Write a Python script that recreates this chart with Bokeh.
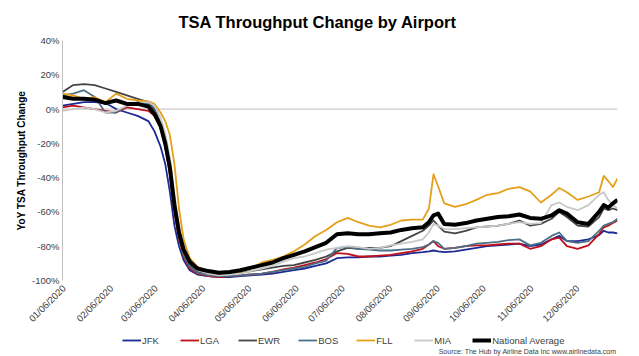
import pandas as pd
from math import pi
from bokeh.plotting import figure
from bokeh.layouts import column
from bokeh.models import (Range1d, FixedTicker, DatetimeTickFormatter, PrintfTickFormatter,
                          Span, Legend, LegendItem, Label)
from bokeh.embed import file_html
from bokeh.resources import INLINE

dates = ["2020-01-05", "2020-01-12", "2020-01-19", "2020-01-26", "2020-02-02", "2020-02-09",
         "2020-02-16", "2020-02-23", "2020-03-01", "2020-03-05", "2020-03-09", "2020-03-12",
         "2020-03-15", "2020-03-18", "2020-03-21", "2020-03-24", "2020-03-28", "2020-04-02",
         "2020-04-09", "2020-04-16", "2020-04-23", "2020-04-30", "2020-05-07", "2020-05-14",
         "2020-05-21", "2020-05-28", "2020-06-04", "2020-06-11", "2020-06-18", "2020-06-25",
         "2020-07-02", "2020-07-09", "2020-07-16", "2020-07-23", "2020-07-30", "2020-08-06",
         "2020-08-13", "2020-08-20", "2020-08-27", "2020-08-31", "2020-09-03", "2020-09-06",
         "2020-09-10", "2020-09-17", "2020-09-24", "2020-10-01", "2020-10-08", "2020-10-15",
         "2020-10-22", "2020-10-29", "2020-11-05", "2020-11-12", "2020-11-19", "2020-11-24",
         "2020-11-29", "2020-12-06", "2020-12-13", "2020-12-20", "2020-12-23", "2020-12-26",
         "2020-12-29", "2021-01-01"]

jfk = [2, 3, 4, 4, 3.5, 0, -2, -4, -7, -13, -22, -32, -48, -68, -80, -88, -94, -96.5,
       -97.5, -98, -98, -97.5, -97, -96.5, -96, -95, -94, -93, -91.5, -90, -87, -86.5,
       -86.5, -86, -86, -85.5, -85, -84, -83.5, -83, -82.5, -83, -83.5, -83, -82, -81,
       -80, -79.5, -79, -78.5, -80, -79, -76, -74, -77, -77, -76, -73.5, -71, -72, -72, -72.5]

lga = [1, 2, 1, 0, -1, -2, 1, 0, -1, -4, -11, -22, -38, -60, -76, -86, -93, -96,
       -97.5, -98, -97.5, -97, -96.5, -96, -95, -93.5, -92.5, -91, -89.5, -87.5, -84, -84.5,
       -86, -86, -85.5, -85, -84, -83, -81.5, -79, -77, -80, -81.5, -81, -80, -79.5,
       -79.5, -79, -78.5, -78.5, -81.5, -80, -76, -75, -80, -81.5, -79.5, -73, -69, -68, -66.5, -65]

ewr = [10, 14, 14.5, 14, 12, 10, 8, 6, 4, 0, -8, -19, -34, -56, -73, -84, -91, -95,
       -96, -96.5, -96, -95.5, -94.5, -93.5, -92.5, -91.5, -91, -89.5, -88, -86, -83, -81,
       -81.5, -81, -81, -80, -77, -74, -71, -68, -65, -68, -71.5, -72.5, -71, -69,
       -68.5, -68, -67, -65, -68, -67, -64, -60, -63, -68, -68.5, -63, -58, -59, -58, -59]

bos = [8, 9, 11, 7, -2, -2, 2, 4, 3, -1, -9, -20, -36, -58, -75, -85, -92, -95.5,
       -97, -97.5, -97.5, -97, -96.5, -96, -95, -94, -93, -92, -90, -88.5, -81, -80.5,
       -81.5, -82, -82.5, -82.5, -82, -81.5, -80.5, -79, -77, -78, -81.5, -81, -80, -78.5,
       -78, -77.5, -76.5, -76, -79.5, -78, -74, -72, -77, -78, -77, -71, -68, -67, -66, -64]

fll = [9, 8, 6, 7, 4, 9, 6, 5, 4.5, 3, -2, -7, -15, -32, -58, -76, -87, -92,
       -95, -96, -96, -95, -93, -89.5, -88, -86, -83, -79, -74, -70.5, -66, -63.5,
       -66, -68, -69, -67.5, -65, -64.5, -64.5, -58, -38, -45, -55, -57, -55.5, -53,
       -50, -49, -46.5, -45.5, -48, -54.5, -50, -46, -48.5, -53, -51, -48.5, -39, -42, -45.5, -40.5]

mia = [-1, 0, 1, 0, -2, -1, 2, 3.5, 4, 2, -5, -14, -28, -50, -68, -80, -89, -94,
       -96, -97, -96.5, -96, -94.5, -93, -91.5, -89, -87, -86, -84, -82, -81, -80,
       -80.5, -81.5, -81, -79.5, -78.5, -77.5, -76, -72, -67, -68, -70, -70, -69.5, -69,
       -68.5, -68, -67, -66, -67, -66.5, -56, -54.5, -57, -59, -56, -50, -48.5, -53, -56, -58]

national = [7, 6, 6, 5.5, 3.5, 5, 3, 3, 1.5, -3, -10, -20, -34, -56, -72, -82, -89, -93,
            -94.5, -95.5, -95, -94, -92.5, -91, -89.5, -87, -85, -83, -80.5, -78, -73, -72.5,
            -73, -73, -72.5, -72, -70.5, -69.5, -69, -66, -62, -61, -67, -67.5, -66.5, -65,
            -64, -63, -62.5, -61.5, -63.5, -64, -62, -59, -61, -66, -67, -60, -56, -57.5, -55, -53]

x_tick_labels = ["01/06/2020", "02/06/2020", "03/06/2020", "04/06/2020", "05/06/2020",
                 "06/06/2020", "07/06/2020", "08/06/2020", "09/06/2020", "10/06/2020",
                 "11/06/2020", "12/06/2020"]
y_ticks = [-100, -80, -60, -40, -20, 0, 20, 40]

series = [("JFK", jfk, "#1b2a94", 1.8),
          ("LGA", lga, "#c0111b", 1.8),
          ("EWR", ewr, "#454545", 1.8),
          ("BOS", bos, "#4d6f87", 1.8),
          ("FLL", fll, "#e5a01a", 1.8),
          ("MIA", mia, "#c8c8c8", 1.8),
          ("National Average", national, "#000000", 4)]

FONT = "Liberation Sans"
x = [d.to_pydatetime() for d in pd.to_datetime(dates)]
tick_ms = [pd.Timestamp(pd.to_datetime(t, format="%m/%d/%Y")).value // 10**6 for t in x_tick_labels]

# ---------------- main chart ----------------
p = figure(width=639, height=332, x_axis_type="datetime", output_backend="svg",
           toolbar_location=None, x_range=Range1d(x[0], x[-1]), y_range=Range1d(-100, 40),
           min_border_left=62, min_border_right=22, min_border_top=40, min_border_bottom=52)
p.outline_line_color = None
p.xgrid.visible = False
p.ygrid.visible = False
p.background_fill_color = "white"
p.border_fill_color = "white"

p.title.text = "TSA Throughput Change by Airport"
p.title.align = "left"
p.title.offset = 116
p.title.text_font = FONT
p.title.text_font_size = "16.5px"
p.title.text_font_style = "bold"
p.title.text_color = "#000000"
p.title.standoff = 20

p.add_layout(Span(location=0, dimension="width", line_color="#bfbfbf", line_width=1, level="underlay"))

for name, vals, color, w in series:
    p.line(x, vals, line_color=color, line_width=w, line_join="round")

p.xaxis.ticker = FixedTicker(ticks=tick_ms)
fmt = "%m/%d/%Y"
p.xaxis.formatter = DatetimeTickFormatter(milliseconds=fmt, seconds=fmt, minsec=fmt, minutes=fmt,
                                          hourmin=fmt, hours=fmt, days=fmt, months=fmt, years=fmt)
p.xaxis.major_label_orientation = pi / 4
p.xaxis.axis_line_color = None
p.xaxis.major_tick_line_color = None
p.xaxis.minor_tick_line_color = None
p.xaxis.major_tick_out = 0
p.xaxis.major_label_standoff = 6
p.xaxis.major_label_text_font = FONT
p.xaxis.major_label_text_font_size = "9.5px"
p.xaxis.major_label_text_color = "#404040"

p.yaxis.ticker = FixedTicker(ticks=y_ticks)
p.yaxis.formatter = PrintfTickFormatter(format="%d%%")
p.yaxis.axis_line_color = "#bfbfbf"
p.yaxis.major_tick_line_color = None
p.yaxis.minor_tick_line_color = None
p.yaxis.major_tick_out = 0
p.yaxis.major_label_standoff = 3
p.yaxis.major_label_text_font = FONT
p.yaxis.major_label_text_font_size = "9.5px"
p.yaxis.major_label_text_color = "#404040"
p.yaxis.axis_label = "YoY TSA Throughput Change"
p.yaxis.axis_label_text_font = FONT
p.yaxis.axis_label_text_font_size = "10px"
p.yaxis.axis_label_text_font_style = "bold"
p.yaxis.axis_label_text_color = "#000000"
p.yaxis.axis_label_standoff = 2

# ---------------- legend strip (frame aligned with the chart's frame) ----------------
q = figure(width=639, height=24, x_axis_type="datetime", output_backend="svg",
           toolbar_location=None, x_range=Range1d(x[0], x[-1]), y_range=Range1d(1000, 1024),
           x_axis_location=None, y_axis_location=None,
           min_border_left=62, min_border_right=22, min_border_top=0, min_border_bottom=0)
q.outline_line_color = None
q.xgrid.visible = False
q.ygrid.visible = False
q.background_fill_color = "white"
q.border_fill_color = "white"

items = []
for name, vals, color, w in series:
    # same series; they fall outside this strip's y range, only their legend glyphs show
    r = q.line(x, vals, line_color=color, line_width=w)
    items.append(LegendItem(label=name, renderers=[r]))

legend = Legend(items=items, orientation="horizontal", location=(60, 10),
                glyph_width=19, glyph_height=12, label_height=12, label_standoff=1,
                spacing=18, padding=0, margin=0, border_line_color=None,
                background_fill_alpha=0, label_text_font=FONT,
                label_text_font_size="9.5px", label_text_color="#404040")
q.add_layout(legend, "center")

q.add_layout(Label(x=554, y=5, x_units="screen", y_units="screen",
                   text="Source: The Hub by Airline Data Inc www.airlinedata.com",
                   text_align="right", text_baseline="middle", text_font=FONT,
                   text_font_size="7px", text_color="#404040"))

layout = column(p, q, spacing=0)
open("out.html", "w").write(file_html(layout, INLINE))
